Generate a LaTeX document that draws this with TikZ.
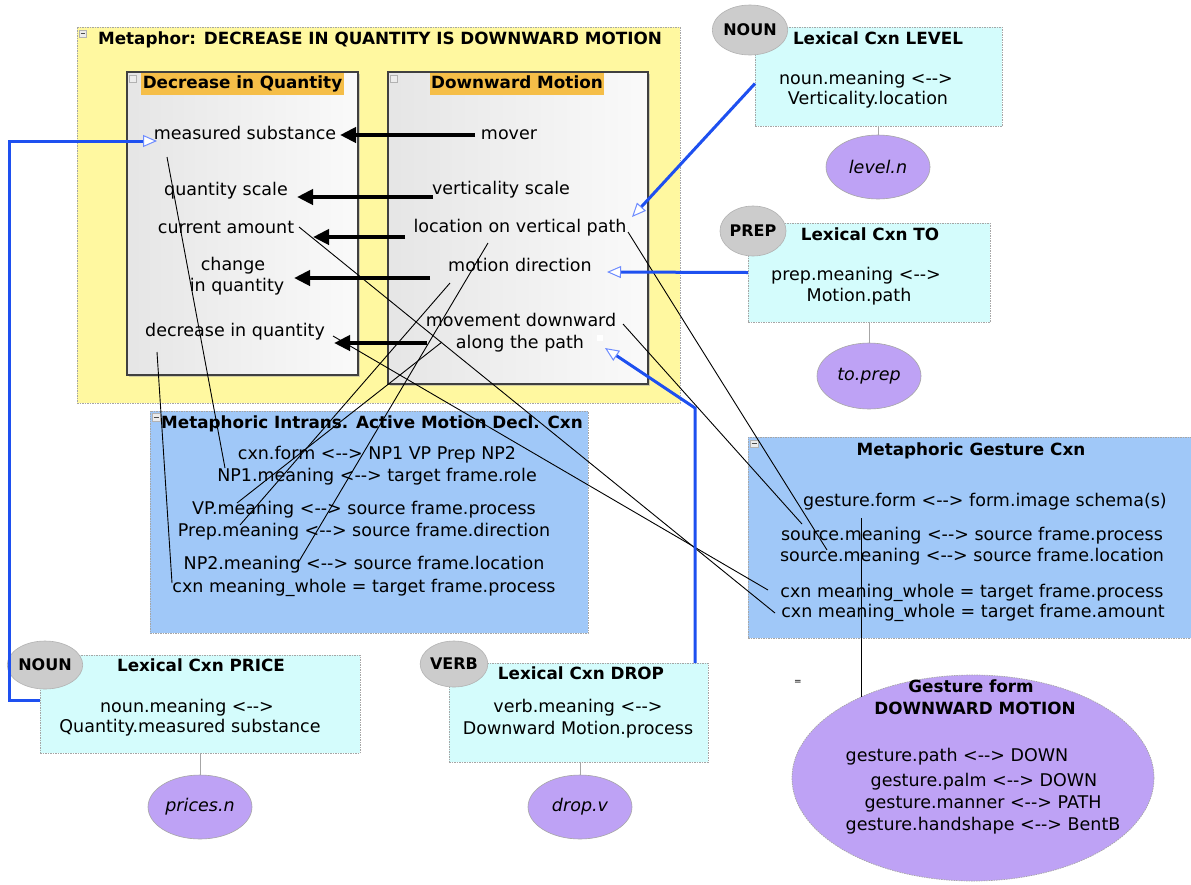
\documentclass[tikz,border=0pt]{standalone}
\usepackage{fontspec}
\setmainfont{DejaVu Sans}
\usetikzlibrary{arrows.meta,shapes.geometric,calc,shadows}

\definecolor{metayellow}{RGB}{255,248,160}
\definecolor{hdrorange}{RGB}{245,190,72}
\definecolor{cxnblue}{RGB}{160,200,248}
\definecolor{lexcyan}{RGB}{212,252,252}
\definecolor{formpurple}{RGB}{190,162,245}
\definecolor{posgray}{RGB}{204,204,204}
\definecolor{linkblue}{RGB}{30,80,240}
\definecolor{tipblue}{RGB}{110,140,255}

% two-headed dashed relation sign, hyphens kept apart
\newcommand{\twoway}{<\mbox{-}\mbox{-}>}

\begin{document}
\begin{tikzpicture}[x=1pt,y=-1pt,
  every node/.style={inner sep=0pt,outer sep=0pt},
  txt/.style={font=\fontsize{17.5}{21}\selectfont,text height=13pt,text depth=4pt},
  ttl/.style={font=\fontsize{16.8}{20}\selectfont\bfseries,text height=12.5pt,text depth=3.5pt},
  hdr/.style={ttl,fill=hdrorange,minimum height=22pt,inner xsep=1.5pt},
  dotframe/.style={draw=gray!70,dash pattern=on 1.5pt off 1pt,line width=0.7pt,anchor=north west},
  metabox/.style={dotframe,fill=metayellow},
  cxnbox/.style={dotframe,fill=cxnblue},
  lexbox/.style={dotframe,fill=lexcyan},
  framebox/.style={draw=black!75,line width=1.3pt,left color=black!10,right color=black!2,
    anchor=north west,drop shadow={shadow xshift=1.5pt,shadow yshift=-1.5pt,fill=black!35}},
  posell/.style={ellipse,draw=gray!60,fill=posgray,line width=0.6pt,
    font=\fontsize{16}{16}\selectfont\bfseries},
  lexell/.style={ellipse,draw=gray!70,fill=formpurple,line width=0.6pt,
    minimum width=104pt,minimum height=64pt,font=\fontsize{17.5}{20}\selectfont\itshape},
  stem/.style={draw=gray!70,line width=1pt},
  mapto/.style={line width=4pt,-{Triangle[length=16pt,width=15pt]}},
  role/.style={line width=0.9pt},
  lexlink/.style={line width=3pt,draw=linkblue,
    -{Triangle[length=14pt,width=12pt,line width=1pt,fill=white,color=tipblue]}},
  icon/.style={draw=gray!60,fill=gray!15,line width=0.5pt}
]
\fill[white] (0,0) rectangle (1191,884);
\useasboundingbox (0,0) rectangle (1191,884);

% ---------------- metaphor frame ----------------
\node[metabox,minimum width=603pt,minimum height=376pt] (meta) at (77,27) {};
\draw[icon] (79,30) rectangle (86,37);
\draw[black!70,line width=0.8pt] (80.5,33.5) -- (84.5,33.5);
\node[ttl] (metattl) at (380,40) {Metaphor: DECREASE IN QUANTITY IS DOWNWARD MOTION};

\node[framebox,minimum width=231pt,minimum height=303pt] (dq) at (127,72) {};
\node[framebox,minimum width=260pt,minimum height=312pt] (dm) at (388,72) {};
\draw[icon] (129,75) rectangle (136,82);
\draw[icon] (390,75) rectangle (397,82);
\node[hdr] (dqttl) at (242.5,84) {Decrease in Quantity};
\node[hdr] (dmttl) at (517,84) {Downward Motion};

% target roles
\node[txt] (ms)   at (245,135) {measured substance};
\node[txt] (qs)   at (226,191) {quantity scale};
\node[txt] (ca)   at (226,229) {current amount};
\node[txt] (ciq1) at (233,266) {change};
\node[txt] (ciq2) at (237,287) {in quantity};
\node[txt] (diq)  at (235,332) {decrease in quantity};

% source roles
\node[txt] (mover) at (509,135) {mover};
\node[txt] (vs)    at (501,190) {verticality scale};
\node[txt] (loc)   at (520,228) {location on vertical path};
\node[txt] (md)    at (520,267) {motion direction};
\node[txt] (mdp1)  at (521,322) {movement downward};
\node[txt] (mdp2)  at (520,344) {along the path};
\fill[white] (597,335) rectangle (603,341);

% ---------------- intransitive motion construction ----------------
\node[cxnbox,minimum width=438pt,minimum height=222pt] (ic) at (150,411) {};
\draw[icon] (152,413) rectangle (160,421);
\draw[black!70,line width=0.8pt] (153.5,417) -- (158.5,417);
\node[ttl] (icttl) at (372,424) {Metaphoric Intrans. Active Motion Decl. Cxn};
\node[txt] (icform) at (377,455) {cxn.form \twoway{} NP1 VP Prep NP2};
\node[txt] (np1)    at (377,477) {NP1.meaning \twoway{} target frame.role};
\node[txt] (vp)     at (364,510) {VP.meaning \twoway{} source frame.process};
\node[txt] (prepm)  at (364,532) {Prep.meaning \twoway{} source frame.direction};
\node[txt] (np2)    at (364,565) {NP2.meaning \twoway{} source frame.location};
\node[txt] (icw)    at (364,588) {cxn meaning\_whole = target frame.process};

% ---------------- gesture construction ----------------
\node[cxnbox,minimum width=445pt,minimum height=201pt] (gc) at (748,437) {};
\draw[icon] (750,440) rectangle (758,447);
\draw[black!70,line width=0.8pt] (751.5,443.5) -- (756.5,443.5);
\node[ttl] (gcttl) at (971,451) {Metaphoric Gesture Cxn};
\node[txt] (gform) at (985,502) {gesture.form \twoway{} form.image schema(s)};
\node[txt] (gsp)   at (972,536) {source.meaning \twoway{} source frame.process};
\node[txt] (gsl)   at (972,557) {source.meaning \twoway{} source frame.location};
\node[txt] (gtp)   at (972,593) {cxn meaning\_whole = target frame.process};
\node[txt] (gta)   at (973,613) {cxn meaning\_whole = target frame.amount};

\node[font=\fontsize{9}{9}\selectfont] (eqmark) at (798,682) {=};
\node[ellipse,draw=gray!70,dash pattern=on 1.5pt off 1pt,line width=0.7pt,fill=formpurple,
  minimum width=362pt,minimum height=206pt] (gfe) at (973,778) {};
\node[ttl] (gfe1) at (971,688) {Gesture form};
\node[ttl] (gfe2) at (975,710) {DOWNWARD MOTION};
\node[txt] (gp1) at (957,757) {gesture.path \twoway{} DOWN};
\node[txt] (gp2) at (984,782) {gesture.palm \twoway{} DOWN};
\node[txt] (gp3) at (983,804) {gesture.manner \twoway{} PATH};
\node[txt] (gp4) at (983,826) {gesture.handshape \twoway{} BentB};

% ---------------- lexical constructions ----------------
\node[lexbox,minimum width=247pt,minimum height=99pt] (lev) at (755,27) {};
\node[ttl] (levttl) at (878,40) {Lexical Cxn LEVEL};
\node[txt] (lev1) at (866,80) {noun.meaning \twoway};
\node[txt] (lev2) at (868,100) {Verticality.location};
\node[posell,minimum width=56pt,minimum height=50pt] (levpos) at (750,30) {NOUN};
\node[lexell] (leveln) at (878,167) {level.n};
\draw[stem] (leveln.north) -- (leveln.north |- lev.south);

\node[lexbox,minimum width=242pt,minimum height=99pt] (to) at (748,223) {};
\node[ttl] (tottl) at (870,236) {Lexical Cxn TO};
\node[txt] (to1) at (856,276) {prep.meaning \twoway};
\node[txt] (to2) at (859,297) {Motion.path};
\node[posell,minimum width=52pt,minimum height=50pt] (topos) at (753,231) {PREP};
\node[lexell,minimum height=66pt] (toprep) at (869,376) {to.prep};
\draw[stem] (toprep.north) -- (toprep.north |- to.south);

\node[lexbox,minimum width=320pt,minimum height=98pt] (price) at (40,655) {};
\node[ttl] (pricettl) at (201,667) {Lexical Cxn PRICE};
\node[txt] (price1) at (187,708) {noun.meaning \twoway};
\node[txt] (price2) at (190,728) {Quantity.measured substance};
\node[posell,minimum width=54pt,minimum height=48pt] (pricepos) at (45,665) {NOUN};
\node[lexell] (pricesn) at (200,807) {prices.n};
\draw[stem] (pricesn.north) -- (pricesn.north |- price.south);

\node[lexbox,minimum width=259pt,minimum height=99pt] (drop) at (449,663) {};
\node[ttl] (dropttl) at (581,675) {Lexical Cxn DROP};
\node[txt] (drop1) at (578,708) {verb.meaning \twoway};
\node[txt] (drop2) at (578,730) {Downward Motion.process};
\node[posell,minimum width=50pt,minimum height=46pt] (droppos) at (454,664) {VERB};
\node[lexell] (dropv) at (580,807) {drop.v};
\draw[stem] (dropv.north) -- (dropv.north |- drop.south);

% ---------------- metaphor mappings ----------------
\draw[mapto] ($(mover)+(-34,0)$) -- ($(ms)+(95,0)$);
\draw[mapto] ($(vs)+(-68,7)$) -- ($(qs)+(71,6)$);
\draw[mapto] ($(loc)+(-115,9)$) -- ($(ca)+(87,8)$);
\draw[mapto] ($(md)+(-90,11)$) -- ($(ciq2)+(57,-9)$);
\draw[mapto] ($(mdp2)+(-93,-1)$) -- ($(diq)+(99,11)$);

% ---------------- role bindings ----------------
\draw[role] ($(ms)+(-78,22)$) -- ($(np1)+(-152,-9)$);
\draw[role] ($(ca)+(73,-2)$) -- ($(gta)+(-198,0)$);
\draw[role] ($(diq)+(98,4)$) -- ($(gtp)+(-204,-3)$);
\draw[role] ($(diq)+(-78,20)$) -- ($(icw)+(-192,-5)$);
\draw[role] ($(loc)+(-32,15)$) -- ($(np2)+(-66,-2)$);
\draw[role] ($(md)+(-70,16)$) -- ($(prepm)+(-124,-7)$);
\draw[role] ($(mdp2)+(-78,-2)$) -- ($(vp)+(-127,-7)$);
\draw[role] ($(loc)+(108,4)$) -- ($(gsl)+(-145,-7)$);
\draw[role] ($(mdp1)+(102,2)$) -- ($(gsp)+(-170,-12)$);
\draw[role] (gfe.144) -- ($(gfe.144 |- gform.center)+(0,16)$);

% ---------------- lexical evocation links ----------------
\draw[lexlink] ($(lev.west)+(0,7)$) -- ($(loc)+(112,-11)$);
\draw[lexlink] (to.west) -- ($(md)+(87,5)$);
\draw[lexlink] ($(drop.north east)+(-13,0)$) -- ++(0,-255) -- ($(mdp2)+(85,4)$);
\draw[lexlink] ($(price.west)+(0,-4)$) -- ++(-31,0) |- ($(ms)+(-88,6)$);
\end{tikzpicture}
\end{document}
